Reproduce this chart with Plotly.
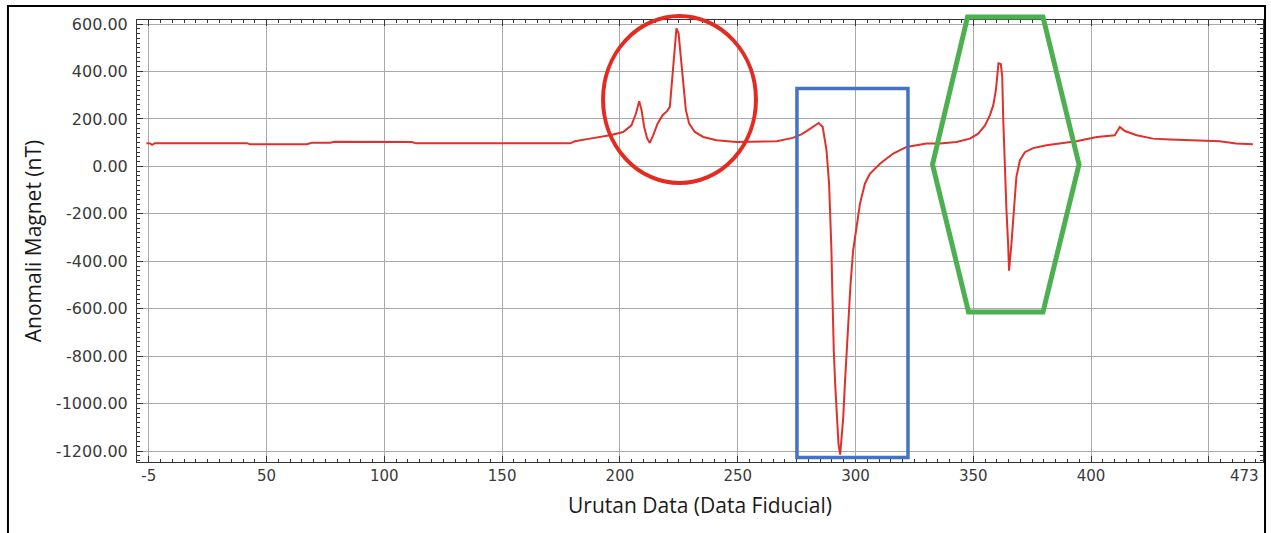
import plotly.graph_objects as go

# ---- data ----
fiducial = [
    -1, 0.5, 1.4, 2.6, 41.7, 43, 67.2, 69.3, 76.9, 79, 111.7, 113.4, 178.8, 180.9,
    187.3, 195.8, 201.4, 204.9, 206.8, 208.2, 209.2, 210.3, 211.6, 212.7, 214.1,
    216.0, 218.1, 220.1, 221.2, 221.9, 222.6, 223.3, 224.0, 224.9, 225.7, 226.9,
    228.0, 229.4, 231.8, 235.4, 241.0, 249.5, 256.5, 266.6, 273.4, 277.0, 279.4,
    284.4, 286.1, 287.7, 288.8, 289.4, 289.8, 290.1, 290.4, 290.8, 291.4, 292.1,
    292.8, 293.5, 294.2, 294.8, 295.5, 296.2, 297.1, 297.9, 299.0, 300.5, 301.9,
    304.0, 306.1, 310.4, 316.0, 321.7, 330.2, 335.8, 342.9, 348.6, 352.1, 355.0,
    357.1, 358.5, 359.6, 360.3, 360.7, 361.7, 362.3, 362.7, 363.4, 364.1, 364.8,
    365.2, 366.2, 367.2, 368.3, 369.8, 371.9, 375.4, 381.1, 388.1, 393.8, 402.5,
    410.1, 412.2, 414.4, 419.4, 426.2, 433.5, 440.7, 447.5, 454.6, 461.6, 468.7,
]
anomaly_nT = [
    98, 97, 91, 98, 98, 93, 93, 100, 100, 104, 103, 97, 97, 106,
    117, 131, 145, 173, 223, 275, 237, 166, 117, 99, 131,
    180, 216, 234, 251, 335, 448, 533, 582, 561, 477, 335,
    237, 180, 145, 124, 110, 103, 103, 106, 120, 135, 150,
    183, 166, 68, -73, -214, -355, -496, -637, -778, -919, -1060,
    -1172, -1215, -1130, -1060, -919, -778, -637, -496, -355, -257, -158,
    -73, -31, 11, 54, 82, 96, 96, 103, 117, 138, 173,
    216, 258, 321, 392, 434, 431, 378, 208, -3, -186, -327,
    -440, -327, -172, -45, 25, 60, 77, 89, 99, 106, 124,
    131, 166, 149, 131, 117, 113, 110, 106, 106, 96, 93,
]

x_grid_vals = [0, 50, 100, 150, 200, 250, 300, 350, 400, 450]
x_grid_labels = ["-5", "50", "100", "150", "200", "250", "300", "350", "400", ""]
x_end_value = 465.3
x_end_label = "473"
y_tick_vals = [600, 400, 200, 0, -200, -400, -600, -800, -1000, -1200]
y_tick_labels = [f"{v:.2f}" for v in y_tick_vals]

x_title = "Urutan Data (Data Fiducial)"
y_title = "Anomali Magnet (nT)"

# ---- figure ----
fig = go.Figure()
fig.add_trace(go.Scatter(
    x=fiducial, y=anomaly_nT, mode="lines",
    line=dict(color="#e0302a", width=2), hoverinfo="skip", showlegend=False,
))

x_tick_font = dict(family="DejaVu Sans", size=15, color="#3a3a3a")
y_tick_font = dict(family="DejaVu Sans", size=16, color="#3a3a3a")
title_font = dict(family="Open Sans", size=21, color="#1a1a1a")
frame = "#333333"
grid = "#a9a9a9"

fig.update_layout(
    width=1271, height=533,
    margin=dict(l=137, r=8, t=20, b=71, pad=0),
    paper_bgcolor="white", plot_bgcolor="white",
    showlegend=False,
    xaxis=dict(
        range=[-5, 473], tickmode="array", tickvals=x_grid_vals, ticktext=x_grid_labels,
        showgrid=True, gridcolor=grid, gridwidth=1, zeroline=False,
        ticks="inside", ticklen=6, tickcolor=frame, tickwidth=1,
        showline=True, linecolor=frame, linewidth=1, mirror="allticks",
        minor=dict(tick0=0, dtick=5, ticks="inside", ticklen=3, tickcolor=frame, showgrid=False),
        tickfont=x_tick_font,
        title=dict(text=x_title, font=title_font, standoff=14),
    ),
    yaxis=dict(
        range=[-1246, 617], tickmode="array", tickvals=y_tick_vals, ticktext=y_tick_labels,
        showgrid=True, gridcolor=grid, gridwidth=1, zeroline=False,
        ticks="inside", ticklen=6, tickcolor=frame, tickwidth=1,
        showline=True, linecolor=frame, linewidth=1, mirror="allticks",
        minor=dict(tick0=0, dtick=20, ticks="inside", ticklen=3, tickcolor=frame, showgrid=False),
        tickfont=y_tick_font, ticklabelstandoff=5,
        title=dict(text=y_title, font=title_font, standoff=8),
    ),
)

# label at the right end of the x axis
fig.add_annotation(
    x=x_end_value, y=0, xref="x", yref="paper", yanchor="top", yshift=-3,
    text=x_end_label, showarrow=False, font=x_tick_font,
)

# hand-drawn highlight marks (paper coordinates of the plot area)
fig.add_shape(type="circle", xref="paper", yref="paper",
              x0=0.4139, x1=0.5497, y0=0.6312, y1=1.0090,
              line=dict(color="#e32b22", width=4))
fig.add_shape(type="rect", xref="paper", yref="paper",
              x0=0.5861, x1=0.6847, y0=0.0102, y1=0.8450,
              line=dict(color="#4472c4", width=3.5))
hexagon = [(0.7376, 1.0068), (0.8046, 1.0068), (0.8366, 0.6731),
           (0.8046, 0.3394), (0.7385, 0.3394), (0.7065, 0.6731)]
path = "M " + " L ".join(f"{x},{y}" for x, y in hexagon) + " Z"
fig.add_shape(type="path", xref="paper", yref="paper", path=path,
              line=dict(color="#4caf50", width=5))
# outer border of the picture
fig.add_shape(type="rect", xref="paper", yref="paper",
              x0=-0.1146, x1=1.0018, y0=-0.2, y1=1.0317,
              line=dict(color="black", width=2))

fig.write_html("out.html")
